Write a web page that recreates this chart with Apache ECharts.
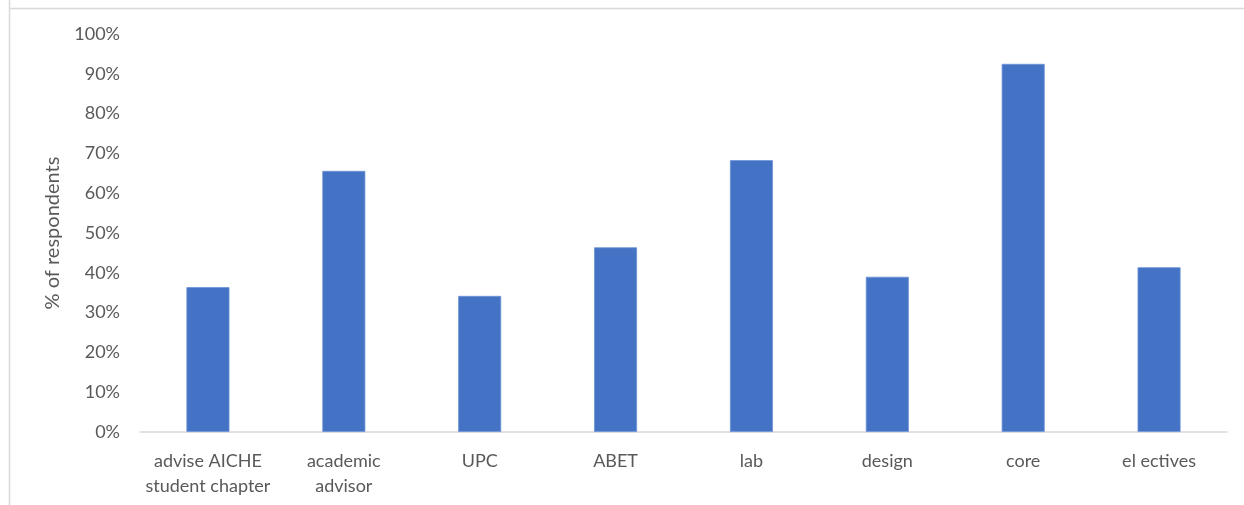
<!DOCTYPE html>
<html>
<head>
<meta charset="utf-8">
<script src="https://cdn.jsdelivr.net/npm/echarts@6/dist/echarts.min.js"></script>
<style>
html,body{margin:0;padding:0;background:#fff;}
#c{width:1244px;height:505px;}
</style>
</head>
<body>
<div id="c"></div>
<script>
const categories = ['advise AICHE\nstudent chapter', 'academic\nadvisor', 'UPC', 'ABET', 'lab', 'design', 'core', 'el ectives'];
const values = [36.4, 65.6, 34.2, 46.4, 68.3, 39.0, 92.5, 41.4];
const yTicks = {min: 0, max: 100, interval: 10};

const chart = echarts.init(document.getElementById('c'));
const font = 'Lato, "Open Sans", sans-serif';
chart.setOption({
  animation: false,
  backgroundColor: '#fff',
  graphic: [
    {type: 'line', shape: {x1: 9.5, y1: 0, x2: 9.5, y2: 505}, style: {stroke: '#d9d9d9', lineWidth: 1.5}},
    {type: 'line', shape: {x1: 9, y1: 8.5, x2: 1244, y2: 8.5}, style: {stroke: '#d9d9d9', lineWidth: 1.5}}
  ],
  grid: {left: 140, right: 17, top: 34, bottom: 73, containLabel: false},
  xAxis: {
    type: 'category',
    data: categories,
    axisLine: {lineStyle: {color: '#d9d9d9', width: 1.5}},
    axisTick: {show: false},
    axisLabel: {color: '#595959', fontSize: 18, fontFamily: font, lineHeight: 25, margin: 17, interval: 0}
  },
  yAxis: {
    type: 'value',
    min: yTicks.min, max: yTicks.max, interval: yTicks.interval,
    name: '% of respondents',
    nameLocation: 'middle',
    nameGap: 77,
    nameTextStyle: {color: '#595959', fontSize: 20, fontFamily: font},
    axisLine: {show: false},
    axisTick: {show: false},
    splitLine: {show: false},
    axisLabel: {color: '#595959', fontSize: 18, fontFamily: font, margin: 20, formatter: '{value}%'}
  },
  series: [{
    type: 'bar',
    data: values,
    barWidth: 43,
    itemStyle: {color: '#4472c4', borderColor: '#6d93d6', borderWidth: 0.8}
  }]
});
</script>
</body>
</html>
